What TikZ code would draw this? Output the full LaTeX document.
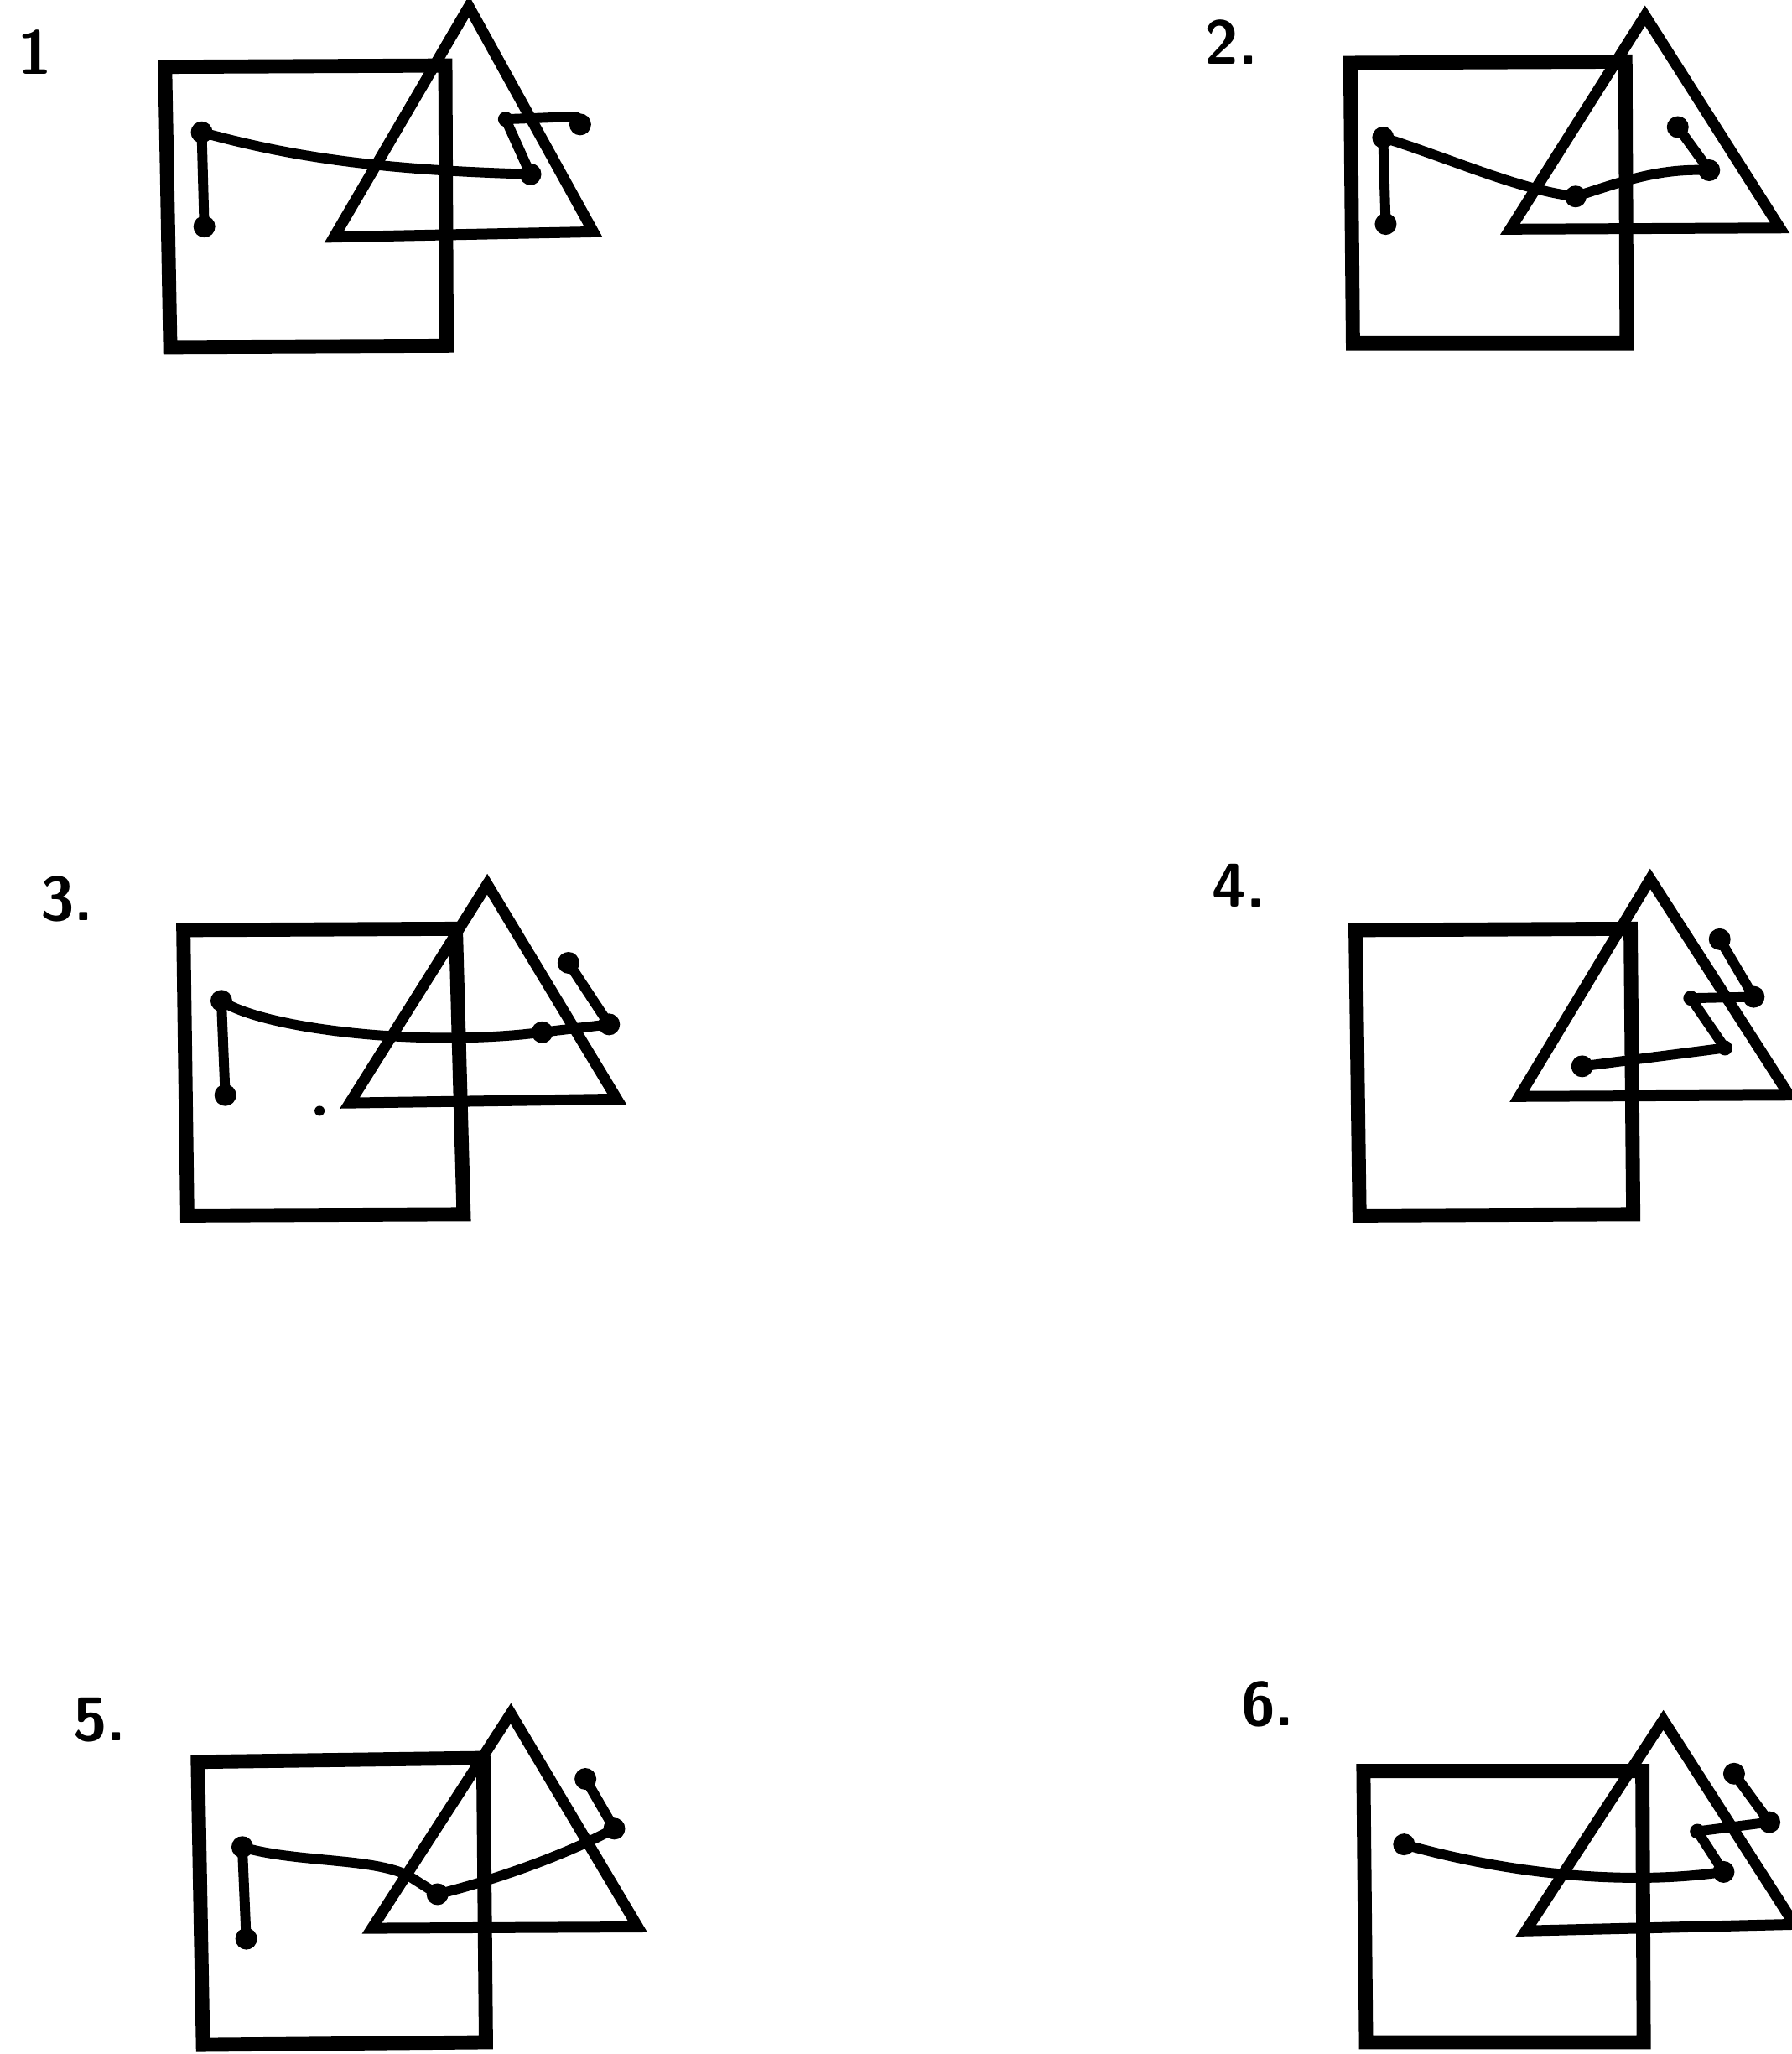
\documentclass[tikz,border=0pt]{standalone}
\begin{document}
\begin{tikzpicture}[x=0.015622cm, y=-0.015622cm,
  box/.style={line width=4.8pt, line join=miter},
  tri/.style={line width=3.7pt, line join=miter},
  wire/.style={line width=3.4pt, line cap=round, line join=round},
  lab/.style={font=\sffamily\bfseries\fontsize{21pt}{25pt}\selectfont, inner sep=0pt}]
\def\blobr{0.13cm}
\def\smallr{0.09cm}
\fill[white] (0,0) rectangle (1368,1568);
\useasboundingbox (0,0) rectangle (1368,1568);

% ---------- Panel 1 ----------
\node[lab] (l1) at (27,40) {1};
\draw[box] (126,51) -- (340,50) -- (341,264) -- (130,265) -- cycle;
\draw[tri] (358,5) -- (255,181) -- (453,177) -- cycle;
\coordinate (a1) at (154,101);
\coordinate (b1) at (156,173);
\coordinate (c1) at (405,133);
\coordinate (h1) at (386,91);
\coordinate (k1) at (440,89);
\coordinate (e1) at (443,95);
\draw[wire] (a1) -- (b1);
\draw[wire] (a1) .. controls (230,122) and (300,130) .. (c1) -- (h1) -- (k1) -- (e1);
\foreach \p in {a1,b1,c1,e1} \fill (\p) circle[radius=\blobr];
\fill (h1) circle[radius=\smallr];

% ---------- Panel 2 ----------
\node[lab] (l2) at (940,32) {2.};
\draw[box] (1031,48) -- (1241,47) -- (1242,262) -- (1033,262) -- cycle;
\draw[tri] (1256,12) -- (1153,175) -- (1359,174) -- cycle;
\coordinate (a2) at (1056,105);
\coordinate (b2) at (1058,171);
\coordinate (v2) at (1203,150);
\coordinate (e2) at (1305,130);
\coordinate (t2) at (1281,97);
\draw[wire] (a2) -- (b2);
\draw[wire] (a2) .. controls (1110,122) and (1160,145) .. (v2) .. controls (1235,140) and (1265,128) .. (e2) -- (t2);
\foreach \p in {a2,b2,v2,e2,t2} \fill (\p) circle[radius=\blobr];

% ---------- Panel 3 ----------
\node[lab] (l3) at (51,686) {3.};
\draw[box] (140,710) -- (348,709) -- (354,927) -- (143,928) -- cycle;
\draw[tri] (372,675) -- (267,842) -- (471,839) -- cycle;
\coordinate (a3) at (169,764);
\coordinate (b3) at (172,836);
\coordinate (c3) at (414,788);
\coordinate (e3) at (465,782);
\coordinate (t3) at (434,735);
\coordinate (s3) at (244,848);
\draw[wire] (a3) -- (b3);
\draw[wire] (a3) .. controls (200,785) and (320,800) .. (c3) -- (e3) -- (t3);
\foreach \p in {a3,b3,c3,e3,t3} \fill (\p) circle[radius=\blobr];
\fill (s3) circle[radius=0.06cm];

% ---------- Panel 4 ----------
\node[lab] (l4) at (946,676) {4.};
\draw[box] (1035,710) -- (1245,709) -- (1247,927) -- (1038,928) -- cycle;
\draw[tri] (1260,671) -- (1160,837) -- (1366,836) -- cycle;
\coordinate (t4) at (1313,717);
\coordinate (g4) at (1339,761);
\coordinate (h4) at (1291,762);
\coordinate (k4) at (1317,800);
\coordinate (d4) at (1208,814);
\draw[wire] (t4) -- (g4) -- (h4) -- (k4) -- (d4);
\foreach \p in {t4,g4,d4} \fill (\p) circle[radius=\blobr];
\foreach \p in {h4,k4} \fill (\p) circle[radius=\smallr];

% ---------- Panel 5 ----------
\node[lab] (l5) at (76,1313) {5.};
\draw[box] (151,1345) -- (369,1342) -- (371,1559) -- (155,1561) -- cycle;
\draw[tri] (390,1308) -- (284,1472) -- (487,1471) -- cycle;
\coordinate (a5) at (185,1410);
\coordinate (b5) at (188,1480);
\coordinate (m5) at (312,1432);
\coordinate (v5) at (334,1446);
\coordinate (g5) at (469,1396);
\coordinate (t5) at (447,1358);
\draw[wire] (a5) -- (b5);
\draw[wire] (a5) .. controls (225,1422) and (285,1418) .. (m5) -- (v5) .. controls (375,1436) and (430,1417) .. (g5) -- (t5);
\foreach \p in {a5,b5,v5,g5,t5} \fill (\p) circle[radius=\blobr];

% ---------- Panel 6 ----------
\node[lab] (l6) at (968,1301) {6.};
\draw[box] (1041,1352) -- (1254,1352) -- (1255,1559) -- (1043,1559) -- cycle;
\draw[tri] (1270,1313) -- (1165,1474) -- (1370,1469) -- cycle;
\coordinate (s6) at (1072,1408);
\coordinate (e6) at (1316,1429);
\coordinate (h6) at (1296,1398);
\coordinate (g6) at (1351,1391);
\coordinate (t6) at (1324,1354);
\draw[wire] (s6) .. controls (1150,1430) and (1240,1440) .. (e6) -- (h6) -- (g6) -- (t6);
\foreach \p in {s6,e6,g6,t6} \fill (\p) circle[radius=\blobr];
\fill (h6) circle[radius=\smallr];
\end{tikzpicture}
\end{document}
